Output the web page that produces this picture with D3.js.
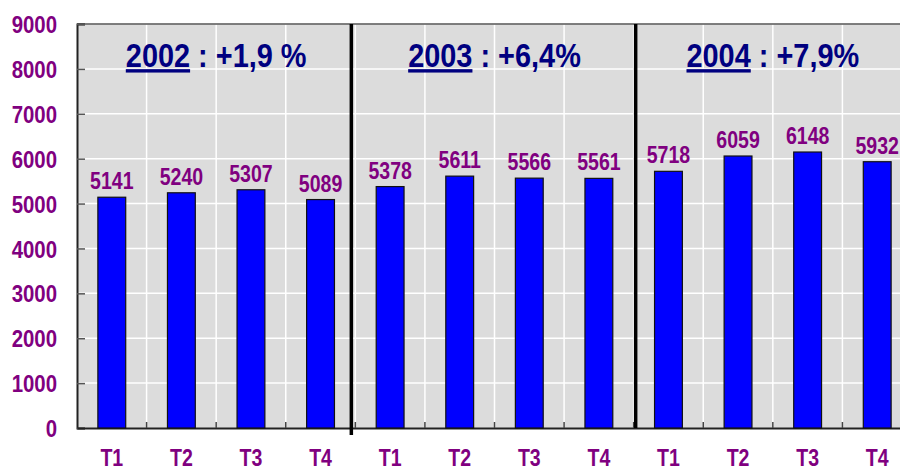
<!DOCTYPE html>
<html><head><meta charset="utf-8">
<script src="https://cdn.jsdelivr.net/npm/d3@7/dist/d3.min.js"></script>
<style>
html,body{margin:0;padding:0;background:#fff;overflow:hidden}
text{font-family:"Liberation Sans",Arial,sans-serif;font-weight:bold}
</style></head>
<body><svg id="c" width="900" height="472"></svg>
<script>
const years = ["2002", "2003", "2004"];
const growth = [" : +1,9 %", " : +6,4%", " : +7,9%"];
const quarters = ["T1", "T2", "T3", "T4"];
const values = [5141, 5240, 5307, 5089, 5378, 5611, 5566, 5561, 5718, 6059, 6148, 5932];
const yTicks = [0, 1000, 2000, 3000, 4000, 5000, 6000, 7000, 8000, 9000];

const data = [];
years.forEach((y, i) => quarters.forEach((q, j) => data.push({key: y + "-" + q, year: y, q: q, v: values[i * 4 + j]})));

const svg = d3.select("#c");
const L = 77, R = 912, T = 24, B = 428;
const purple = "#800080", navy = "#000080";
const SX = 0.85; // horizontal condensing to mimic a narrow bold face

const x = d3.scaleBand().domain(data.map(d => d.key)).range([L, R]).paddingInner(0.6).paddingOuter(0.3);
const y = d3.scaleLinear().domain([0, 9000]).range([B, T]);
const step = x.step();
const boundary = k => x(k) - x.paddingInner() * step / 2;

// plot background
svg.append("rect").attr("x", L).attr("y", T).attr("width", R - L).attr("height", B - T).attr("fill", "#dcdcdc");

// horizontal gridlines
svg.append("g").selectAll("line").data(yTicks.filter(t => t > 0)).join("line")
  .attr("x1", L).attr("x2", R).attr("y1", d => y(d)).attr("y2", d => y(d))
  .attr("stroke", "#ffffff").attr("stroke-width", 1.5);
// vertical gridlines
svg.append("g").selectAll("line").data(data.slice(1)).join("line")
  .attr("x1", d => boundary(d.key)).attr("x2", d => boundary(d.key)).attr("y1", T).attr("y2", B)
  .attr("stroke", "#ffffff").attr("stroke-width", 1.5);

// top border
svg.append("line").attr("x1", L).attr("x2", R).attr("y1", T).attr("y2", T).attr("stroke", "#000").attr("stroke-width", 1.2);

// y axis
const yAxis = d3.axisLeft(y).tickValues(yTicks).tickSize(-8).tickPadding(20).tickFormat(d3.format("d"));
const gy = svg.append("g").attr("transform", `translate(${L},0)`).call(yAxis);
gy.select(".domain").attr("stroke", "#222").attr("stroke-width", 2);
gy.selectAll(".tick line").attr("stroke", "#555").attr("stroke-width", 1.5);
gy.selectAll(".tick text").attr("fill", purple).attr("font-size", 24)
  .attr("transform", `scale(${SX},1)`).attr("x", -20 / SX).attr("dy", "0.36em");

// x axis
const xAxis = d3.axisBottom(x).tickFormat(k => k.split("-")[1]).tickSize(0).tickPadding(22);
const gx = svg.append("g").attr("transform", `translate(0,${B})`).call(xAxis);
gx.select(".domain").attr("stroke", "#222").attr("stroke-width", 2);
gx.selectAll(".tick text").attr("fill", purple).attr("font-size", 23).attr("transform", `scale(${SX},1)`);
// inward ticks at boundaries
svg.append("g").selectAll("line").data(data.slice(1)).join("line")
  .attr("x1", d => boundary(d.key)).attr("x2", d => boundary(d.key)).attr("y1", B - 6).attr("y2", B)
  .attr("stroke", "#444").attr("stroke-width", 1.5);

// bars
svg.append("g").selectAll("rect").data(data).join("rect")
  .attr("x", d => x(d.key)).attr("width", x.bandwidth())
  .attr("y", d => y(d.v)).attr("height", d => y(0) - y(d.v))
  .attr("fill", "#0000ff").attr("stroke", "#111").attr("stroke-width", 1.2);

// value labels
svg.append("g").selectAll("text").data(data).join("text")
  .attr("transform", d => `translate(${x(d.key) + x.bandwidth() / 2},${y(d.v) - 8}) scale(${SX},1)`)
  .attr("text-anchor", "middle").attr("fill", purple).attr("font-size", 23).text(d => d.v);

// group separators
years.slice(1).forEach((yr, i) => {
  const bx = boundary(yr + "-T1") + (i === 0 ? -4 : 2);
  svg.append("line").attr("x1", bx).attr("x2", bx).attr("y1", T).attr("y2", i === 0 ? B + 7 : B)
    .attr("stroke", "#000").attr("stroke-width", 3.5);
});

// group titles
years.forEach((yr, i) => {
  const x0 = boundary(yr + "-T1");
  const x1 = i < years.length - 1 ? boundary(years[i + 1] + "-T1") : R;
  const t = svg.append("text").attr("transform", `translate(${(x0 + x1) / 2},67) scale(${SX},1)`)
    .attr("text-anchor", "middle").attr("fill", navy).attr("font-size", 34);
  t.append("tspan").attr("text-decoration", "underline").text(yr);
  t.append("tspan").text(growth[i]);
});
</script></body></html>
